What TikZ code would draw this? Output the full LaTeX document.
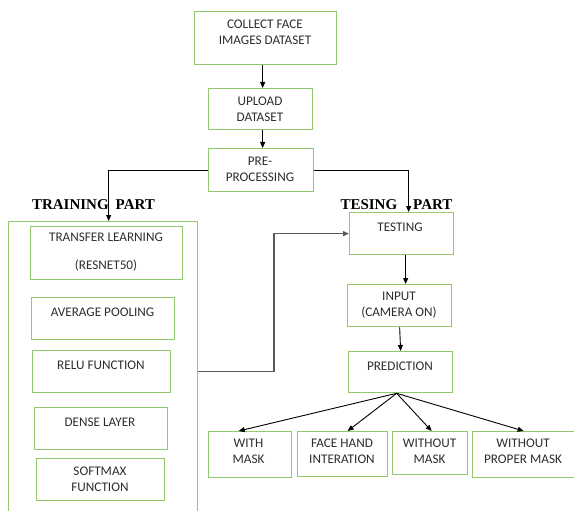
\documentclass[tikz,border=0pt]{standalone}
\usepackage{fontspec}
\setmainfont{Carlito}
\newfontfamily\timesb{Liberation Serif}
\usetikzlibrary{arrows.meta,calc}
\definecolor{bgreen}{RGB}{146,200,110}
\definecolor{tgray}{RGB}{45,45,45}
\definecolor{lgray}{RGB}{89,89,89}
\begin{document}
\begin{tikzpicture}[x=1pt,y=-1pt,
 box/.style={draw=bgreen,line width=1.3pt,anchor=north west,inner sep=0pt},
 txt/.style={text=tgray,font=\fontsize{13.2}{16}\selectfont,align=center,inner sep=0pt},
 arr/.style={draw=black,line width=0.9pt,-{Triangle[length=6pt,width=5pt]}},
 garr/.style={draw=lgray,line width=1.4pt,-{Triangle[length=6pt,width=5pt]}},
 lbl/.style={font=\timesb\bfseries\fontsize{15}{16}\selectfont,text=black,inner sep=0pt}]
\useasboundingbox (0,0) rectangle (574,511);
\clip (0,0) rectangle (574,511);
% boxes
\node[box,minimum width=142pt,minimum height=53pt] (collect) at (194,11) {};
\node[box,minimum width=104pt,minimum height=41pt] (upload) at (208,88) {};
\node[box,minimum width=105pt,minimum height=43pt] (pre) at (208,148) {};
\node[box,minimum width=189pt,minimum height=300pt] (train) at (8,221) {};
\node[box,minimum width=152pt,minimum height=53pt] (transfer) at (30,226) {};
\node[box,minimum width=143pt,minimum height=42pt] (average) at (31,297) {};
\node[box,minimum width=138pt,minimum height=42pt] (relu) at (32,350) {};
\node[box,minimum width=133pt,minimum height=42pt] (dense) at (34,407) {};
\node[box,minimum width=128pt,minimum height=42pt] (softmax) at (36,458) {};
\node[box,minimum width=104pt,minimum height=42pt] (testing) at (349,212) {};
\node[box,minimum width=104pt,minimum height=42pt] (input) at (347,284) {};
\node[box,minimum width=104pt,minimum height=41pt] (prediction) at (348,351) {};
\node[box,minimum width=83pt,minimum height=46pt] (withmask) at (208,431) {};
\node[box,minimum width=90pt,minimum height=45pt] (facehand) at (297,431) {};
\node[box,minimum width=75pt,minimum height=43pt] (without) at (392,431) {};
\node[box,minimum width=110pt,minimum height=46pt] (proper) at (472,431) {};
% texts
\node[txt] (collect-t) at (265,32) {COLLECT FACE\\IMAGES DATASET};
\node[txt] (upload-t) at (260,109) {UPLOAD\\DATASET};
\node[txt] (pre-t) at (260,169.5) {PRE-\\PROCESSING};
\node[txt] (transfer-t) at (106,252) {TRANSFER LEARNING\\[12pt](RESNET50)};
\node[txt] (average-t) at (102.5,312) {AVERAGE POOLING};
\node[txt] (relu-t) at (101,365) {RELU FUNCTION};
\node[txt] (dense-t) at (100,422) {DENSE LAYER};
\node[txt] (softmax-t) at (100,479.5) {SOFTMAX\\FUNCTION};
\node[txt] (testing-t) at (400,227) {TESTING};
\node[txt] (input-t) at (399,305) {INPUT\\(CAMERA ON)};
\node[txt] (prediction-t) at (400,366) {PREDICTION};
\node[txt] (withmask-t) at (248.5,451.5) {WITH\\MASK};
\node[txt] (facehand-t) at (342,451.5) {FACE HAND\\INTERATION};
\node[txt] (without-t) at (429.5,451.5) {WITHOUT\\MASK};
\node[txt] (proper-t) at (523,451.5) {WITHOUT\\PROPER MASK};
% section labels
\node[lbl] (trainlbl) at (93.5,205) {TRAINING\hspace{7pt}PART};
\node[lbl] (testlbl) at (396.5,205) {TESING\hspace{16pt}PART};
% connectors
\draw[arr] ($(collect.south)+(-3,0)$) -- ($(upload.north)+(2,0)$);
\draw[arr] ($(upload.south)+(2,0)$) -- ($(pre.north)+(1.5,0)$);
\draw[arr] (pre.west) -| ($(train.north)+(5.5,0)$);
\draw[arr] (pre.east) -| ($(testing.north)+(7,0)$);
\coordinate (tj) at (274,0);
\draw[garr] (relu.east -| train.east) -- (tj |- relu.east) |- (testing.west);
\draw[arr] ($(testing.south)+(4,0)$) -- ($(input.north)+(6,0)$);
\draw[arr] (input.south) -- (prediction.north);
\coordinate (fan) at ($(prediction.south)+(-4,0)$);
\draw[arr] (fan) -- ($(withmask.north)+(-11.5,0)$);
\draw[arr] (fan) -- ($(facehand.north)+(5,0)$);
\draw[arr] (fan) -- ($(without.north)+(1.5,0)$);
\draw[arr] (fan) -- ($(proper.north)+(-4,0)$);
\end{tikzpicture}
\end{document}
